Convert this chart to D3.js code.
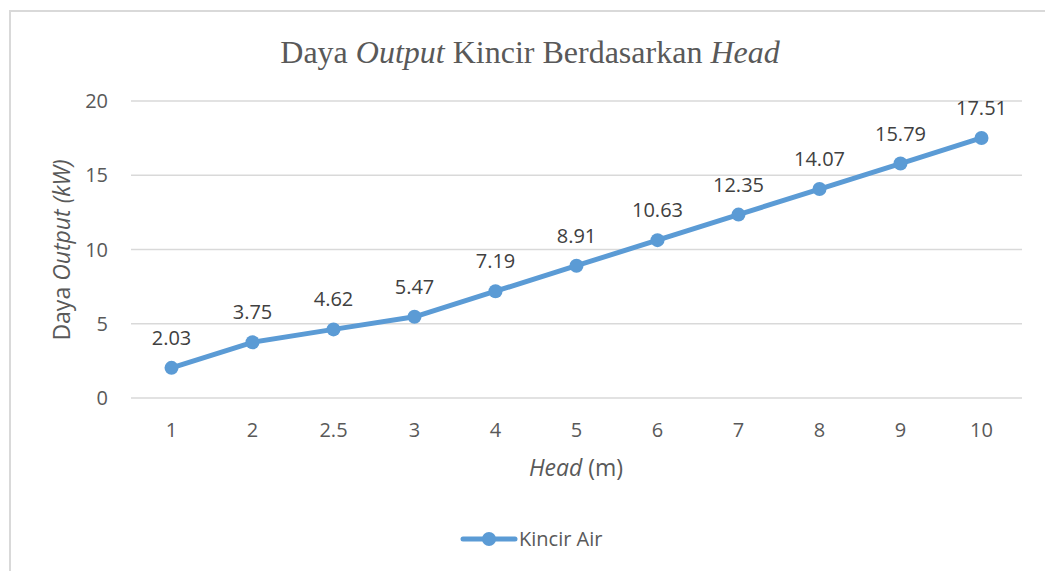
<!DOCTYPE html>
<html lang="en">
<head>
    <meta charset="UTF-8">
    <title>Daya Output Kincir Berdasarkan Head</title>
    <script src="https://d3js.org/d3.v7.min.js"></script>
    <style>
        body { margin: 0; background: #fff; }
        text { font-family: "Open Sans", sans-serif; fill: #595959; }
        .grid line { stroke: #d9d9d9; stroke-width: 1.5px; }
    </style>
</head>
<body>
    <svg width="1045" height="571"></svg>
    <script>
        const heads = ["1", "2", "2.5", "3", "4", "5", "6", "7", "8", "9", "10"];
        const power = [2.03, 3.75, 4.62, 5.47, 7.19, 8.91, 10.63, 12.35, 14.07, 15.79, 17.51];
        const yTicks = [0, 5, 10, 15, 20];
        const seriesName = "Kincir Air";
        const blue = "#5b9bd5";

        const svg = d3.select("svg");

        // chart frame (only the left and top edges show in the crop)
        svg.append("path")
            .attr("d", "M10,571 V11 H1045")
            .attr("fill", "none")
            .attr("stroke", "#d9d9d9")
            .attr("stroke-width", 2);

        const x = d3.scaleBand().domain(heads).range([131, 1022]);
        const y = d3.scaleLinear().domain([0, 20]).range([398, 101]);

        // title
        const title = svg.append("text")
            .attr("x", 530).attr("y", 63)
            .attr("text-anchor", "middle")
            .style("font-family", "'Liberation Serif', 'Times New Roman', serif")
            .style("font-size", "32px");
        title.append("tspan").text("Daya ");
        title.append("tspan").style("font-style", "italic").text("Output");
        title.append("tspan").text(" Kincir Berdasarkan ");
        title.append("tspan").style("font-style", "italic").text("Head");

        // gridlines
        svg.append("g").attr("class", "grid")
            .selectAll("line").data(yTicks).join("line")
            .attr("x1", 131).attr("x2", 1022)
            .attr("y1", d => y(d)).attr("y2", d => y(d));

        // y tick labels
        svg.append("g").selectAll("text").data(yTicks).join("text")
            .attr("x", 108).attr("y", d => y(d))
            .attr("dy", "0.35em")
            .attr("text-anchor", "end")
            .style("font-size", "20px")
            .text(d => d);

        // x tick labels
        svg.append("g").selectAll("text").data(heads).join("text")
            .attr("x", d => x(d) + x.bandwidth() / 2).attr("y", 430)
            .attr("dy", "0.35em")
            .attr("text-anchor", "middle")
            .style("font-size", "20px")
            .text(d => d);

        // axis titles
        const xt = svg.append("text")
            .attr("x", 576).attr("y", 468)
            .attr("dy", "0.35em")
            .attr("text-anchor", "middle")
            .style("font-size", "23px");
        xt.append("tspan").style("font-style", "italic").text("Head");
        xt.append("tspan").text(" (m)");

        const yt = svg.append("text")
            .attr("transform", "translate(62,250) rotate(-90)")
            .attr("dy", "0.35em")
            .attr("text-anchor", "middle")
            .style("font-size", "23px");
        yt.append("tspan").text("Daya ");
        yt.append("tspan").style("font-style", "italic").text("Output (kW)");

        // series
        const pts = heads.map((h, i) => [x(h) + x.bandwidth() / 2, y(power[i])]);

        svg.append("path")
            .datum(pts)
            .attr("fill", "none")
            .attr("stroke", blue)
            .attr("stroke-width", 5)
            .attr("stroke-linejoin", "round")
            .attr("stroke-linecap", "round")
            .attr("d", d3.line());

        svg.append("g").selectAll("circle").data(pts).join("circle")
            .attr("cx", d => d[0]).attr("cy", d => d[1])
            .attr("r", 7)
            .attr("fill", blue);

        // data labels
        svg.append("g").selectAll("text").data(pts).join("text")
            .attr("x", d => d[0]).attr("y", d => d[1] - 30)
            .attr("dy", "0.35em")
            .attr("text-anchor", "middle")
            .style("font-size", "20px")
            .style("fill", "#404040")
            .text((d, i) => power[i].toFixed(2));

        // legend
        const lg = svg.append("g").attr("transform", "translate(0,539)");
        lg.append("line")
            .attr("x1", 463).attr("x2", 515)
            .attr("stroke", blue).attr("stroke-width", 5)
            .attr("stroke-linecap", "round");
        lg.append("circle").attr("cx", 489).attr("r", 7).attr("fill", blue);
        lg.append("text")
            .attr("x", 519).attr("dy", "0.35em")
            .style("font-size", "20px")
            .text(seriesName);
    </script>
</body>
</html>
